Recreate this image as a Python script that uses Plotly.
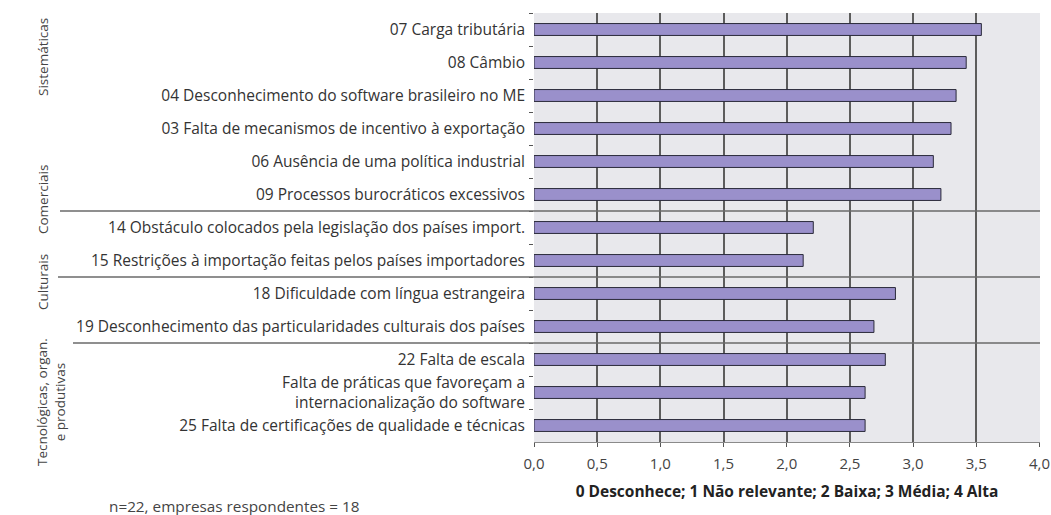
import plotly.graph_objects as go

categories = [
    "07 Carga tributária",
    "08 Câmbio",
    "04 Desconhecimento do software brasileiro no ME",
    "03 Falta de mecanismos de incentivo à exportação",
    "06 Ausência de uma política industrial",
    "09 Processos burocráticos excessivos",
    "14 Obstáculo colocados pela legislação dos países import.",
    "15 Restrições à importação feitas pelos países importadores",
    "18 Dificuldade com língua estrangeira",
    "19 Desconhecimento das particularidades culturais dos países",
    "22 Falta de escala",
    "Falta de práticas que favoreçam a<br>internacionalização do software",
    "25 Falta de certificações de qualidade e técnicas",
]
values = [3.54, 3.42, 3.34, 3.30, 3.16, 3.22, 2.21, 2.13, 2.86, 2.69, 2.78, 2.62, 2.62]

x_tickvals = [0, 0.5, 1.0, 1.5, 2.0, 2.5, 3.0, 3.5, 4.0]
x_ticktext = ["0,0", "0,5", "1,0", "1,5", "2,0", "2,5", "3,0", "3,5", "4,0"]

groups = ["Sistemáticas", "Comerciais", "Culturais", "Tecnológicas, organ.<br>e produtivas"]
separators = [5.5, 7.5, 9.5]

W, H = 1051, 515
L, R, T, B = 534, 11, 13, 73
PW, PH = W - L - R, H - T - B


def px_x(p):
    return (p - L) / PW


def px_y(p):
    return (H - B - p) / PH


group_y = [px_y(57), px_y(200), px_y(282), px_y(402)]
group_x = [px_x(43), px_x(43), px_x(43), px_x(51)]
separator_x0 = [px_x(60), px_x(58), px_x(73)]

fig = go.Figure(
    go.Bar(
        x=values,
        y=categories,
        orientation="h",
        marker=dict(color="#9a90cb", line=dict(color="#2a2a3a", width=1)),
        width=0.36,
        hoverinfo="skip",
    )
)

shapes = []
for yv, x0 in zip(separators, separator_x0):
    shapes.append(dict(type="line", xref="paper", yref="y", x0=x0, x1=1.0, y0=yv, y1=yv,
                       line=dict(color="#6a6a6a", width=1.5), layer="above"))

annotations = []
for g, gy, gx in zip(groups, group_y, group_x):
    annotations.append(dict(text=g, xref="paper", yref="paper", x=gx, y=gy, showarrow=False,
                            textangle=-90, font=dict(size=13.5, color="#444444", family="Open Sans"),
                            xanchor="center", yanchor="middle", align="center"))
annotations.append(dict(text="n=22, empresas respondentes = 18", xref="paper", yref="paper",
                        x=px_x(107), y=px_y(506),
                        xanchor="left", yanchor="middle", showarrow=False,
                        font=dict(size=15.3, color="#444444", family="Open Sans")))

fig.update_layout(
    width=W, height=H,
    margin=dict(l=L, r=R, t=T, b=B, autoexpand=False),
    paper_bgcolor="white",
    plot_bgcolor="#e8e8ec",
    showlegend=False,
    font=dict(family="Open Sans", size=15, color="#333333"),
    shapes=shapes,
    annotations=annotations,
    xaxis=dict(
        range=[0, 4.004],
        tickvals=x_tickvals,
        ticktext=x_ticktext,
        showgrid=True,
        gridcolor="#5c5c5c",
        gridwidth=1.5,
        zeroline=False,
        showline=True,
        linecolor="#8a8a8a",
        linewidth=1,
        ticks="outside",
        ticklen=4,
        tickcolor="#555555",
        ticklabelstandoff=4,
        ticklabeloverflow="allow",
        tickfont=dict(size=15, color="#444444"),
        title=dict(text="<b>0 Desconhece; 1 Não relevante; 2 Baixa; 3 Média; 4 Alta</b>",
                   font=dict(size=15.5, color="#222222"), standoff=14),
    ),
    yaxis=dict(
        categoryorder="array",
        categoryarray=categories,
        autorange="reversed",
        showgrid=False,
        zeroline=False,
        showline=False,
        ticks="outside",
        tickson="boundaries",
        ticklen=4,
        tickcolor="#555555",
        ticklabelstandoff=8,
        tickfont=dict(size=15.5, color="#333333"),
    ),
)

fig.write_html("out.html", config={"displayModeBar": False},
               post_script="document.body.style.margin='0';")
